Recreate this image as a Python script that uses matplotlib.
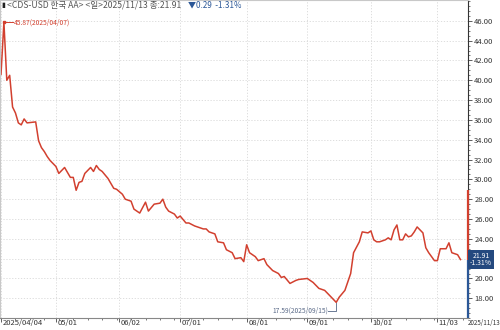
import numpy as np
import pandas as pd
import matplotlib
matplotlib.use('Agg')
import matplotlib.pyplot as plt
import matplotlib.transforms as mtransforms
from matplotlib.ticker import FixedLocator, MultipleLocator, FuncFormatter

# CDS-USD Korea AA, daily close
dates = [
    '2025-04-04', '2025-04-07', '2025-04-08', '2025-04-09', '2025-04-10', '2025-04-11',
    '2025-04-14', '2025-04-15', '2025-04-16', '2025-04-17', '2025-04-22', '2025-04-23',
    '2025-04-24', '2025-04-25', '2025-04-28', '2025-04-29', '2025-04-30', '2025-05-01',
    '2025-05-02', '2025-05-06', '2025-05-08', '2025-05-09', '2025-05-12', '2025-05-13',
    '2025-05-14', '2025-05-15', '2025-05-19', '2025-05-20', '2025-05-21', '2025-05-22',
    '2025-05-23', '2025-05-27', '2025-05-29', '2025-05-30', '2025-06-03', '2025-06-04',
    '2025-06-06', '2025-06-09', '2025-06-11', '2025-06-13', '2025-06-16', '2025-06-18',
    '2025-06-20', '2025-06-23', '2025-06-24', '2025-06-25', '2025-06-27', '2025-06-30',
    '2025-07-01', '2025-07-03', '2025-07-04', '2025-07-08', '2025-07-11', '2025-07-14',
    '2025-07-15', '2025-07-17', '2025-07-18', '2025-07-22', '2025-07-23', '2025-07-25',
    '2025-07-28', '2025-07-30', '2025-07-31', '2025-08-01', '2025-08-04', '2025-08-06',
    '2025-08-07', '2025-08-11', '2025-08-12', '2025-08-14', '2025-08-18', '2025-08-19',
    '2025-08-20', '2025-08-22', '2025-08-26', '2025-08-27', '2025-09-01', '2025-09-03',
    '2025-09-05', '2025-09-09', '2025-09-11', '2025-09-15', '2025-09-16', '2025-09-18',
    '2025-09-22', '2025-09-23', '2025-09-25', '2025-09-26', '2025-09-30', '2025-10-01',
    '2025-10-02', '2025-10-03', '2025-10-06', '2025-10-07', '2025-10-08', '2025-10-09',
    '2025-10-10', '2025-10-13', '2025-10-14', '2025-10-15', '2025-10-16', '2025-10-17',
    '2025-10-20', '2025-10-21', '2025-10-22', '2025-10-23', '2025-10-24', '2025-10-27',
    '2025-10-28', '2025-10-29', '2025-10-30', '2025-10-31', '2025-11-03', '2025-11-04',
    '2025-11-06', '2025-11-07', '2025-11-10', '2025-11-11', '2025-11-12', '2025-11-13',
]
values = [
    40.6, 45.87, 40.0, 40.5, 37.3, 36.7,
    35.7, 35.5, 36.1, 35.7, 35.8, 33.9,
    33.2, 32.8, 32.3, 31.9, 31.6, 31.3,
    30.6, 31.2, 30.2, 30.2, 28.9, 29.7,
    29.8, 30.6, 31.2, 30.8, 31.4, 31.0,
    30.8, 30.1, 29.1, 29.0, 28.5, 28.0,
    27.8, 27.0, 26.6, 27.7, 26.8, 27.5,
    27.6, 28.0, 27.2, 26.8, 26.5, 26.1,
    26.3, 25.6, 25.6, 25.3, 25.0, 25.0,
    24.7, 24.5, 23.7, 23.6, 22.9, 22.6,
    22.0, 22.1, 21.7, 23.4, 22.6, 22.2,
    21.8, 22.0, 21.4, 20.8, 20.5, 20.1,
    20.2, 19.5, 19.8, 19.9, 20.0, 19.6,
    19.0, 18.8, 18.2, 17.59, 18.1, 18.8,
    20.5, 22.6, 23.7, 24.7, 24.6, 24.8,
    23.9, 23.7, 23.7, 23.8, 23.9, 24.1,
    23.9, 24.9, 25.4, 23.9, 23.9, 24.5,
    24.2, 24.3, 24.7, 25.2, 24.9, 24.6,
    23.1, 22.6, 22.2, 21.8, 21.8, 23.0,
    23.0, 23.6, 22.6, 22.5, 22.4, 21.91,
]

tick_dates = ['2025-04-04', '2025-05-01', '2025-06-02', '2025-07-01',
              '2025-08-01', '2025-09-01', '2025-10-01', '2025-11-03']
tick_labels = ['2025/04/04', '05/01', '06/02', '07/01', '08/01', '09/01', '10/01', '11/03']
y_ticks = [18, 20, 22, 24, 26, 28, 30, 32, 34, 36, 38, 40, 42, 44, 46]

last_date = '2025/11/13'
last_value = 21.91
change = 0.29
change_pct = -1.31
max_date, max_value = '2025-04-07', 45.87
min_date, min_value = '2025-09-15', 17.59
range_top = 28.9

FONT = ['Liberation Sans Narrow', 'Noto Sans CJK KR', 'DejaVu Sans']
plt.rcParams['font.family'] = FONT
plt.rcParams['font.size'] = 5.5

RED = '#d2402f'
BLUE = '#2b5797'
GRAY = '#555555'

days = pd.bdate_range('2025-04-04', '2025-11-13')
x = days.get_indexer(pd.to_datetime(dates))
tick_x = days.get_indexer(pd.to_datetime(tick_dates))
x_max = days.get_loc(pd.Timestamp(max_date))
x_min = days.get_loc(pd.Timestamp(min_date))

fig = plt.figure(figsize=(5, 3.3), dpi=100)
ax = fig.add_axes([0.0, 0.036, 0.936, 0.964])

ax.plot(x, values, color=RED, lw=1.1, solid_joinstyle='round')

ax.set_xlim(-0.35, 161.6)
ax.set_ylim(16.0, 48.1)

# axes / ticks
ax.yaxis.tick_right()
ax.yaxis.set_major_locator(FixedLocator(y_ticks))
ax.yaxis.set_minor_locator(MultipleLocator(0.5))
# the current-value box sits on top of the 22.00 label
ax.yaxis.set_major_formatter(FuncFormatter(
    lambda v, p: '' if abs(v - 22) < 0.01 else f'{v:.2f}'))
ax.set_xticks(tick_x)
ax.set_xticklabels(tick_labels, ha='left')
ax.xaxis.set_minor_locator(FixedLocator(np.arange(0, 162, 5)))
ax.tick_params(axis='both', which='major', length=3, width=0.6, color='#444444',
               labelcolor='#333333')
ax.tick_params(axis='y', pad=1.5)
ax.tick_params(axis='x', pad=-2.5)
ax.tick_params(axis='both', which='minor', length=1.5, width=0.5, color='#444444')
# labels start just right of their tick mark
shift = mtransforms.ScaledTranslation(1.5 / 100, 0, fig.dpi_scale_trans)
for lab in ax.get_xticklabels():
    lab.set_transform(lab.get_transform() + shift)

ax.grid(True, which='major', color='#d8d8d8', lw=0.6, ls=(0, (1.5, 2)))

for s in ['left', 'top']:
    ax.spines[s].set_color('#c8c8c8')
    ax.spines[s].set_linewidth(0.8)
ax.spines['bottom'].set_color('#888888')
ax.spines['bottom'].set_linewidth(0.8)
ax.spines['right'].set_color('#333333')
ax.spines['right'].set_linewidth(0.8)

# coloured range on the price axis
trans = ax.get_yaxis_transform()
ax.plot([1, 1], [range_top, last_value], transform=trans, color=RED, lw=1.6,
        clip_on=False, solid_capstyle='butt', zorder=5)
ax.plot([1, 1], [16.0, last_value], transform=trans, color=BLUE, lw=1.6,
        clip_on=False, solid_capstyle='butt', zorder=5)

# current value box
ax.text(1.004, last_value, f'{last_value:.2f}\n{change_pct:.2f}%', transform=trans,
        ha='left', va='center', color='white', fontsize=5.0, linespacing=0.95,
        multialignment='center', zorder=6,
        bbox=dict(boxstyle='square,pad=0.25', fc='#24497f', ec='none'))

# max / min annotations
ax.plot([x_max, x_max + 3.2], [max_value, max_value], color=RED, lw=0.7)
ax.plot([x_max], [max_value], marker='s', ms=1.5, color=RED)
ax.text(x_max + 3.3, max_value, f'{max_value:.2f}({max_date.replace("-", "/")})',
        color=RED, ha='left', va='center', fontsize=4.8)

y_lab = 16.75
ax.plot([x_min - 2.7, x_min, x_min], [y_lab, y_lab, min_value - 0.1],
        color='#6a7a95', lw=0.7)
ax.text(x_min - 2.8, y_lab, f'{min_value:.2f}({min_date.replace("-", "/")})',
        color='#5a6a88', ha='right', va='center', fontsize=4.8)

# header
fig.text(0.003, 0.985, '▮', color='#222222', fontsize=5, va='center', ha='left')
fig.text(0.014, 0.985, f'<CDS-USD 한국 AA> <일>{last_date} 종:{last_value:.2f}',
         color=GRAY, fontsize=6.2, va='center', ha='left')
fig.text(0.376, 0.985, f'▼{change:.2f}  {change_pct:.2f}%', color=BLUE,
         fontsize=5.8, va='center', ha='left')

# last date label under the price axis
ax.text(0.999, -0.004, last_date, transform=ax.transAxes, ha='left', va='top',
        color='#333333', fontsize=4.5)

fig.savefig('out.png', dpi=100, facecolor='white')
